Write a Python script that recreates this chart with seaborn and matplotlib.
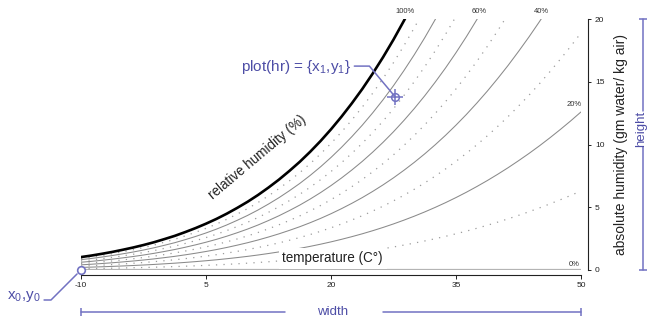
import matplotlib
matplotlib.use("Agg")
import matplotlib.pyplot as plt
import matplotlib.transforms as mtransforms
import numpy as np
import pandas as pd
import seaborn as sns

# ---- data ----
temperature = [-10, -8.75, -7.5, -6.25, -5, -3.75, -2.5, -1.25, 0, 1.25, 2.5,
               3.75, 5, 6.25, 7.5, 8.75, 10, 11.25, 12.5, 13.75, 15, 16.25,
               17.5, 18.75, 20, 21.25, 22.5, 23.75, 25, 26.25, 27.5, 28.75,
               30, 31.25, 32.5, 33.75, 35, 36.25, 37.5, 38.75, 40, 41.25,
               42.5, 43.75, 45, 46.25, 47.5, 48.75, 50]
saturation = [1.03, 1.15, 1.29, 1.44, 1.61, 1.79, 1.99, 2.21, 2.46, 2.72,
              3.02, 3.34, 3.69, 4.07, 4.49, 4.95, 5.44, 5.98, 6.57, 7.20,
              7.89, 8.62, 9.42, 10.28, 11.21, 12.21, 13.28, 14.42, 15.65,
              16.96, 18.36, 19.86, 21.45, 23.14, 24.94, 26.84, 28.86, 30.99,
              33.25, 35.62, 38.13, 40.75, 43.53, 46.41, 49.44, 52.62, 55.93,
              59.37, 62.98]
rh_levels = [0, 10, 20, 30, 40, 50, 60, 70, 80, 90, 100]
rh_label_text = ["100%", "60%", "40%", "20%", "0%"]
rh_label_T = [28.9, 37.8, 45.3, 49.2, 49.2]
rh_label_H = [20.6, 20.6, 20.6, 13.2, 0.4]
x_ticks = [-10, 5, 20, 35, 50]
y_ticks = [0, 5, 10, 15, 20]
hr_point = [27.7, 13.8]

rows = []
for rh in rh_levels:
    for t, s in zip(temperature, saturation):
        rows.append({"T": t, "H": rh / 100.0 * s, "rh": rh})
df = pd.DataFrame(rows)

# ---- style ----
sns.set_theme(style="white")
plt.rcParams["font.family"] = ["Liberation Sans", "DejaVu Sans"]
plt.rcParams["axes.unicode_minus"] = False
plt.rcParams["mathtext.fontset"] = "custom"
plt.rcParams["mathtext.rm"] = "Liberation Sans"
plt.rcParams["mathtext.it"] = "Liberation Sans:italic"

BLUE_T = "#4d4da6"
BLUE_L = "#7272c2"

fig = plt.figure(figsize=(6.48, 3.23), dpi=100)
ax = fig.add_axes([81 / 648, 53 / 323, 500 / 648, 251 / 323])

for rh in rh_levels:
    sub = df[df["rh"] == rh]
    if rh == 100:
        kw = dict(color="black", linewidth=1.9, linestyle="-")
    elif rh == 0:
        kw = dict(color="#b4b4b4", linewidth=1.6, linestyle="-")
    elif rh % 20 == 0:
        kw = dict(color="#8a8a8a", linewidth=0.75, linestyle="-")
    else:
        kw = dict(color="#9c9c9c", linewidth=0.9, linestyle=(0, (1, 5)))
    sns.lineplot(data=sub, x="T", y="H", ax=ax, estimator=None, sort=False,
                 legend=False, solid_joinstyle="round", **kw)

ax.set_xlim(x_ticks[0], x_ticks[-1])
ax.set_ylim(y_ticks[0], y_ticks[-1])
ax.set_xlabel("")
ax.set_ylabel("")

for s in ["top", "left"]:
    ax.spines[s].set_visible(False)
ax.spines["bottom"].set_position(("outward", 3.8))
ax.spines["right"].set_position(("outward", 5))
for s in ["bottom", "right"]:
    ax.spines[s].set_color("#222222")
    ax.spines[s].set_linewidth(0.8)

ax.set_xticks(x_ticks)
ax.set_xticklabels([str(v) for v in x_ticks])
ax.set_yticks(y_ticks)
ax.set_yticklabels([str(v) for v in y_ticks])
ax.yaxis.tick_right()
ax.tick_params(axis="x", direction="out", length=3, width=0.7, colors="#222222",
               labelsize=6, pad=1.5, bottom=True)
ax.tick_params(axis="y", direction="out", length=2.5, width=0.7, colors="#222222",
               labelsize=6, pad=2.5, right=True, left=False)
ax.yaxis.set_label_position("right")
ax.set_ylabel("absolute humidity (gm water/ kg air)", fontsize=10,
              color="#222222", labelpad=7, rotation=90)

# percent labels
for txt, t, h in zip(rh_label_text, rh_label_T, rh_label_H):
    ax.text(t, h, txt, fontsize=5.5, color="#333333", ha="center", va="center")

ax.text(11.2, 9.0, "relative humidity (%)", rotation=40, rotation_mode="anchor",
        ha="center", va="center", fontsize=9.75, color="#222222")
ax.text(20.2, 0.95, "temperature (C\u00b0)", ha="center", va="center",
        fontsize=9.75, color="#222222",
        bbox=dict(fc="white", ec="none", pad=2.5), zorder=5)

# blue annotations
ax.plot([x_ticks[0]], [y_ticks[0]], marker="o", ms=5.5, mfc="white", mec=BLUE_L,
        mew=1.2, clip_on=False, zorder=10)
ax.annotate("x$_0$,y$_0$", xy=(x_ticks[0], y_ticks[0]), xycoords="data",
            xytext=(24 / 648, 1 - 297 / 323), textcoords="figure fraction",
            ha="center", va="center", fontsize=11, color=BLUE_T,
            arrowprops=dict(arrowstyle="-", color=BLUE_L, lw=1.1,
                            connectionstyle="angle,angleA=0,angleB=45,rad=0",
                            relpos=(1, 0.3), shrinkA=0, shrinkB=4),
            annotation_clip=False, zorder=10)

ax.plot([hr_point[0]], [hr_point[1]], marker="o", ms=5.5, mfc="none", mec=BLUE_L,
        mew=1.1, zorder=10)
ax.plot([hr_point[0]], [hr_point[1]], marker="+", ms=12, mec=BLUE_L, mew=1.1,
        zorder=10)
ax.annotate("plot(hr) = {x$_1$,y$_1$}", xy=(hr_point[0], hr_point[1]),
            xycoords="data", xytext=(296 / 648, 1 - 67 / 323),
            textcoords="figure fraction", ha="center", va="center",
            fontsize=11, color=BLUE_T,
            arrowprops=dict(arrowstyle="-", color=BLUE_L, lw=1.1,
                            connectionstyle="angle,angleA=0,angleB=-50,rad=0",
                            relpos=(1, 0.55), shrinkA=0, shrinkB=0),
            zorder=10)

# width bracket
bt = mtransforms.blended_transform_factory(ax.transData, fig.transFigure)
wy = 1 - 312 / 323
ax.plot([x_ticks[0], 14.5], [wy, wy], transform=bt, color=BLUE_L, lw=1.1, clip_on=False)
ax.plot([26.2, x_ticks[-1]], [wy, wy], transform=bt, color=BLUE_L, lw=1.1, clip_on=False)
ax.plot([x_ticks[0], x_ticks[-1]], [wy, wy], transform=bt, ls="none", marker="|",
        ms=6, mec=BLUE_L, mew=1.1, clip_on=False)
fig.text(333 / 648, wy, "width", ha="center", va="center", fontsize=9.5, color=BLUE_T)

# height bracket
ht = mtransforms.blended_transform_factory(fig.transFigure, ax.transData)
hx = 643 / 648
ax.plot([hx, hx], [y_ticks[0], 9.8], transform=ht, color=BLUE_L, lw=1.1, clip_on=False)
ax.plot([hx, hx], [12.7, y_ticks[-1]], transform=ht, color=BLUE_L, lw=1.1, clip_on=False)
ax.plot([hx, hx], [y_ticks[0], y_ticks[-1]], transform=ht, ls="none", marker="_",
        ms=6, mec=BLUE_L, mew=1.1, clip_on=False)
fig.text(641.5 / 648, 1 - 129 / 323, "height", rotation=90, ha="center",
         va="center", fontsize=9.5, color=BLUE_T)

fig.savefig("out.png", dpi=100)
